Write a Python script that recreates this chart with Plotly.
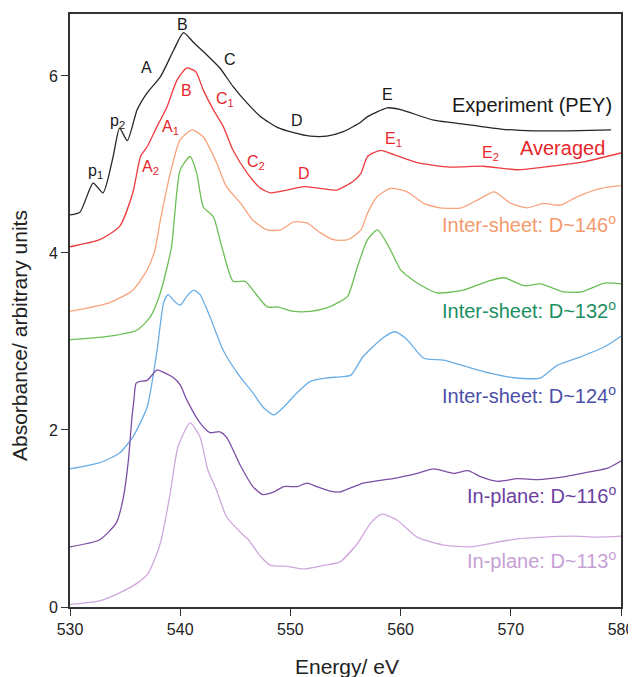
import plotly.graph_objects as go

# ---------------- data ----------------
exp_x = [530, 530.9, 532.1, 533.0, 533.9, 534.5, 535.2, 536.1, 537.0, 538.2, 539.4, 540.3, 541.2, 542.4, 543.6,
         544.8, 546.1, 547.3, 548.8, 550.3, 551.8, 553.3, 554.8, 556.4, 557.0, 558.8, 560.0, 563.0, 566.1,
         569.1, 572.1, 575.2, 579.1]
exp_y = [4.43, 4.46, 4.79, 4.68, 5.08, 5.41, 5.27, 5.62, 5.81, 5.99, 6.29, 6.49, 6.38, 6.24, 6.09,
         5.88, 5.69, 5.54, 5.42, 5.36, 5.32, 5.32, 5.37, 5.48, 5.54, 5.64, 5.62, 5.50, 5.45,
         5.40, 5.38, 5.38, 5.39]

avg_x = [530, 532.7, 534.5, 535.7, 536.4, 537.0, 537.9, 538.8, 539.7, 540.6, 541.4, 542.1, 543.0, 543.9, 544.8,
         546.1, 547.3, 548.2, 549.7, 551.2, 552.7, 554.2, 555.7, 556.4, 557.0, 558.2, 559.4, 561.5, 564.5,
         567.5, 570.6, 573.6, 576.6, 580]
avg_y = [4.07, 4.15, 4.30, 4.68, 5.09, 5.20, 5.43, 5.65, 5.95, 6.09, 6.05, 5.84, 5.62, 5.43, 5.16,
         4.90, 4.73, 4.68, 4.71, 4.75, 4.73, 4.71, 4.81, 4.90, 5.09, 5.16, 5.11, 5.02, 4.97,
         4.98, 4.94, 4.98, 5.03, 5.13]

d146_x = [530, 533.6, 535.7, 537.0, 537.7, 538.2, 539.1, 540.0, 541.1, 542.1, 543.3, 544.2, 545.5, 546.6, 547.9,
          549.1, 550.3, 551.5, 552.7, 553.9, 555.2, 556.4, 557.0, 557.9, 559.1, 560.6, 562.1, 563.6, 565.5,
          567.0, 568.5, 570.0, 571.5, 573.0, 574.5, 576.1, 578.2, 580]
d146_y = [3.34, 3.44, 3.58, 3.81, 4.03, 4.37, 4.90, 5.28, 5.39, 5.31, 5.02, 4.75, 4.56, 4.37, 4.26,
          4.26, 4.35, 4.34, 4.23, 4.15, 4.15, 4.26, 4.45, 4.64, 4.73, 4.69, 4.56, 4.51, 4.51,
          4.60, 4.69, 4.56, 4.51, 4.56, 4.54, 4.64, 4.73, 4.76]

d132_x = [530, 533.6, 536.1, 537.3, 538.2, 539.2, 540.0, 540.9, 541.5, 542.1, 543.0, 543.8, 544.8, 545.9, 546.6,
          547.9, 548.8, 550.3, 551.8, 553.3, 554.5, 555.2, 556.1, 557.0, 557.9, 559.1, 560.0, 561.5, 563.3,
          565.7, 567.9, 569.4, 571.2, 572.7, 574.8, 576.4, 578.5, 580]
d132_y = [3.02, 3.06, 3.13, 3.28, 3.55, 4.06, 4.94, 5.09, 4.90, 4.52, 4.41, 4.06, 3.68, 3.68, 3.58,
          3.39, 3.39, 3.34, 3.34, 3.38, 3.45, 3.51, 3.85, 4.15, 4.26, 4.03, 3.81, 3.66, 3.55,
          3.58, 3.68, 3.72, 3.63, 3.65, 3.56, 3.56, 3.66, 3.65]

d124_x = [530, 532.7, 534.5, 535.7, 537.0, 537.9, 538.5, 538.9, 539.5, 540.0, 540.6, 541.2, 541.8, 542.7, 543.9,
          545.2, 546.6, 547.5, 548.5, 549.4, 550.6, 551.8, 553.3, 554.5, 555.5, 556.6, 558.5, 559.5, 560.6,
          562.1, 563.9, 566.4, 568.2, 570.3, 572.7, 574.2, 576.4, 578.5, 580]
d124_y = [1.56, 1.63, 1.74, 1.92, 2.26, 2.90, 3.44, 3.53, 3.45, 3.41, 3.51, 3.58, 3.53, 3.28, 2.90,
          2.64, 2.42, 2.26, 2.17, 2.26, 2.42, 2.55, 2.59, 2.60, 2.62, 2.83, 3.05, 3.11, 3.02,
          2.81, 2.79, 2.70, 2.64, 2.59, 2.59, 2.73, 2.83, 2.94, 3.06]

d116_x = [530, 532.7, 534.2, 534.8, 535.3, 535.6, 535.8, 536.0, 536.4, 537.0, 537.9, 538.5, 539.4, 540.0, 540.6,
          541.8, 542.7, 543.6, 544.2, 545.5, 546.6, 547.5, 548.5, 549.4, 550.6, 551.5, 552.4, 553.6, 554.5,
          556.6, 559.7, 561.5, 563.0, 564.8, 566.1, 567.3, 568.8, 570.6, 572.4, 574.8, 577.3, 578.8, 580]
d116_y = [0.68, 0.76, 0.95, 1.21, 1.66, 2.11, 2.34, 2.53, 2.55, 2.56, 2.68, 2.65, 2.59, 2.51, 2.34,
          2.08, 1.97, 1.98, 1.92, 1.59, 1.36, 1.27, 1.30, 1.36, 1.36, 1.40, 1.36, 1.31, 1.30,
          1.40, 1.46, 1.51, 1.56, 1.51, 1.54, 1.47, 1.42, 1.45, 1.44, 1.47, 1.53, 1.57, 1.65]

d113_x = [530, 532.7, 534.5, 536.1, 537.1, 538.2, 539.1, 539.8, 540.9, 541.8, 542.5, 543.3, 544.2, 545.5, 546.2,
          547.3, 548.2, 549.7, 551.2, 553.0, 554.5, 556.1, 557.3, 558.3, 559.7, 561.5, 563.9, 566.4, 568.2,
          570.6, 573.0, 575.5, 577.9, 580]
d113_y = [0.03, 0.07, 0.16, 0.27, 0.38, 0.72, 1.29, 1.81, 2.08, 1.92, 1.55, 1.32, 1.02, 0.84, 0.76,
          0.57, 0.47, 0.46, 0.43, 0.47, 0.51, 0.72, 0.95, 1.05, 0.98, 0.79, 0.70, 0.68, 0.72,
          0.77, 0.79, 0.80, 0.79, 0.80]

x_ticks = [530, 540, 550, 560, 570, 580]
y_ticks = [0, 2, 4, 6]

# name, x, y, line colour, label colour, label x (right edge), label y (centre)
series = [
    ("Experiment (PEY)", exp_x, exp_y, "#262626", "#1a1a1a", 579.35, 5.67),
    ("Averaged", avg_x, avg_y, "#ee3b3f", "#e8262c", 578.7, 5.19),
    ("Inter-sheet: D~146<sup>o</sup>", d146_x, d146_y, "#f7a47c", "#f49a6c", 579.7, 4.33),
    ("Inter-sheet: D~132<sup>o</sup>", d132_x, d132_y, "#6cbf55", "#1b8f5f", 579.7, 3.36),
    ("Inter-sheet: D~124<sup>o</sup>", d124_x, d124_y, "#6aaee6", "#4b4fa8", 579.7, 2.40),
    ("In-plane: D~116<sup>o</sup>", d116_x, d116_y, "#7d4ea6", "#6c3fa0", 579.7, 1.27),
    ("In-plane: D~113<sup>o</sup>", d113_x, d113_y, "#d0a8dc", "#c79fd6", 579.7, 0.54),
]

peak_labels = [
    ("p<sub>1</sub>", 532.3, 4.92, "#1a1a1a"),
    ("p<sub>2</sub>", 534.3, 5.48, "#1a1a1a"),
    ("A", 536.9, 6.09, "#1a1a1a"),
    ("B", 540.2, 6.58, "#1a1a1a"),
    ("C", 544.5, 6.19, "#1a1a1a"),
    ("D", 550.6, 5.50, "#1a1a1a"),
    ("E", 558.8, 5.79, "#1a1a1a"),
    ("A<sub>2</sub>", 537.3, 4.97, "#e8262c"),
    ("A<sub>1</sub>", 539.1, 5.42, "#e8262c"),
    ("B", 540.6, 5.84, "#e8262c"),
    ("C<sub>1</sub>", 544.1, 5.73, "#e8262c"),
    ("C<sub>2</sub>", 546.9, 5.02, "#e8262c"),
    ("D", 551.2, 4.90, "#e8262c"),
    ("E<sub>1</sub>", 559.4, 5.28, "#e8262c"),
    ("E<sub>2</sub>", 568.2, 5.12, "#e8262c"),
]

FONT = "Liberation Sans, Arial, sans-serif"

fig = go.Figure()
for name, xs, ys, lc, tc, lx, ly in series:
    fig.add_trace(go.Scatter(x=xs, y=ys, mode="lines", name=name,
                             line=dict(color=lc, width=1.3, shape="spline", smoothing=0.6),
                             showlegend=False, hoverinfo="skip"))
    fig.add_annotation(x=lx, y=ly, text=name, showarrow=False, xanchor="right", yanchor="middle",
                       font=dict(family=FONT, size=20, color=tc))

for txt, x, y, c in peak_labels:
    fig.add_annotation(x=x, y=y, text=txt, showarrow=False, xanchor="center", yanchor="middle",
                       font=dict(family=FONT, size=16, color=c))

# axis titles
fig.add_annotation(xref="paper", yref="paper", x=0.503, y=-0.1, yanchor="middle", xanchor="center",
                   text="Energy/ eV", showarrow=False, font=dict(family=FONT, size=21, color="#222222"))
fig.add_annotation(xref="paper", yref="paper", x=-0.0907, y=0.457, xanchor="center", yanchor="middle",
                   text="Absorbance/ arbitrary units", textangle=-90, showarrow=False,
                   font=dict(family=FONT, size=21, color="#222222"))

axis_common = dict(showline=True, linecolor="#333333", linewidth=1.6, mirror=True,
                   ticks="outside", ticklen=7, tickwidth=1.4, tickcolor="#333333",
                   showgrid=False, zeroline=False, automargin=False,
                   tickfont=dict(family=FONT, size=16, color="#222222"))

fig.update_xaxes(range=[530, 580], tickvals=x_ticks, ticktext=[str(v) for v in x_ticks], **axis_common)
fig.update_yaxes(range=[0, 6.7], tickvals=y_ticks, ticktext=[str(v) for v in y_ticks], **axis_common)

# the page body has an 8px margin, so the figure is sized/offset to fill the 636x677 window
fig.update_layout(width=628, height=669, margin=dict(l=62, r=15, t=6, b=70),
                  plot_bgcolor="white", paper_bgcolor="white")

fig.write_html("out.html")
